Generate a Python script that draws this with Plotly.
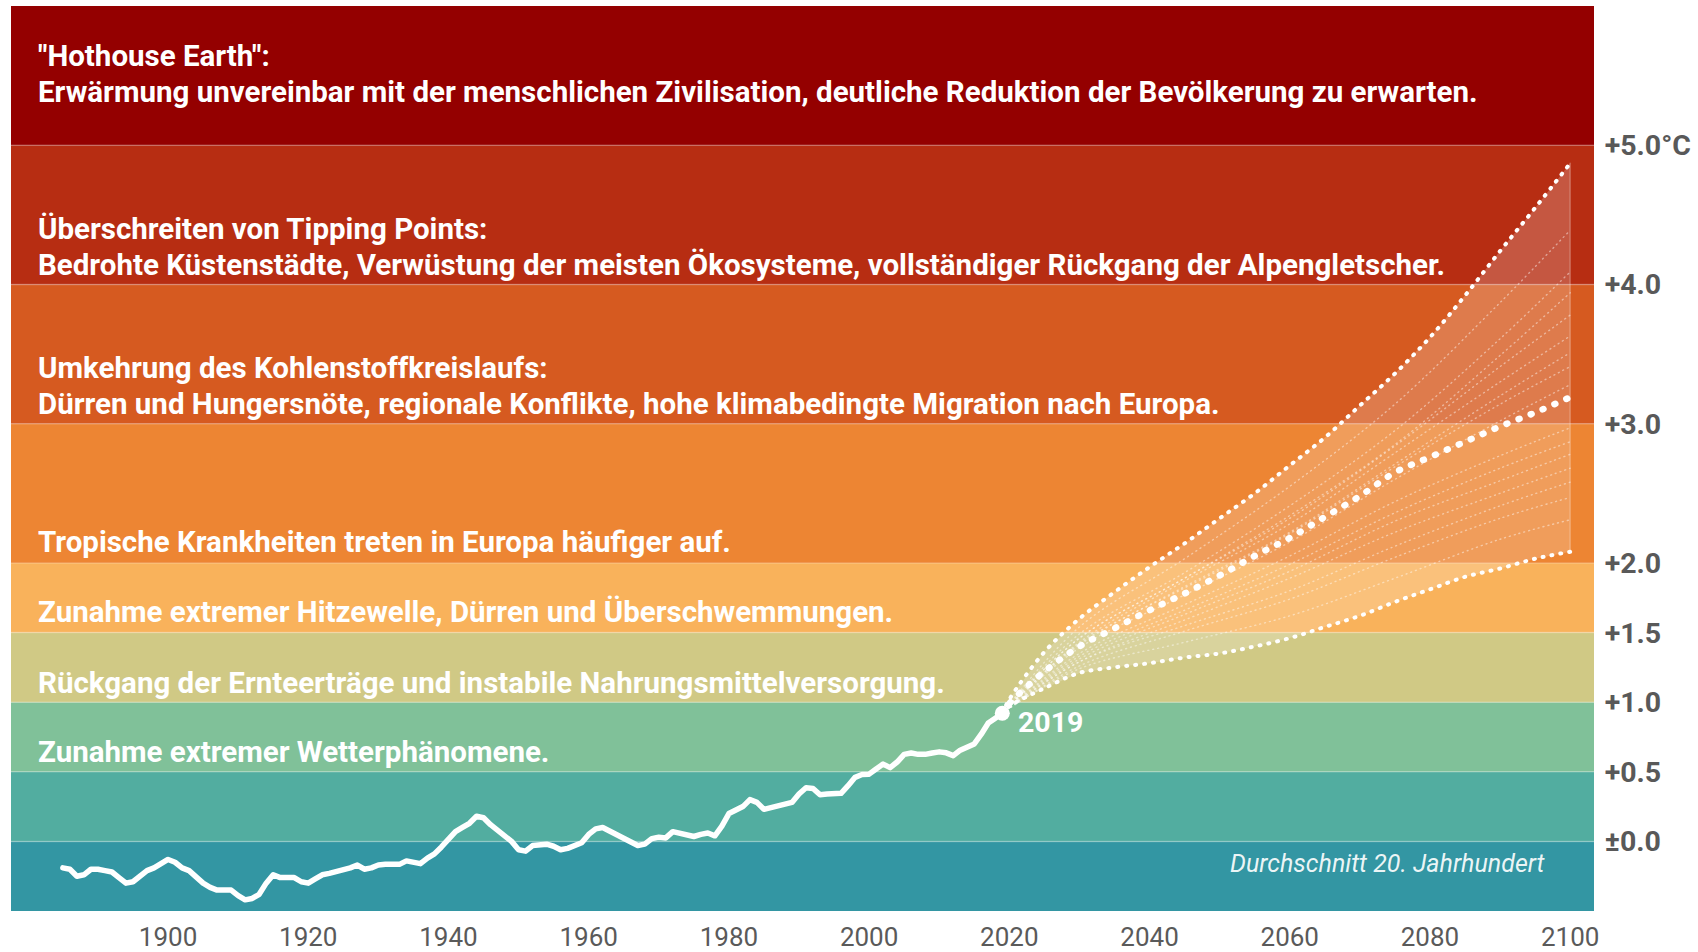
import plotly.graph_objects as go

# ---------------- data ----------------
hist_years = list(range(1885, 2020))
hist_temp = [
    -0.19, -0.20, -0.25, -0.24, -0.20, -0.20, -0.21, -0.22, -0.26, -0.30,   # 1885-1894
    -0.29, -0.25, -0.21, -0.19, -0.16, -0.13, -0.15, -0.19, -0.21, -0.26,   # 1895-1904
    -0.30, -0.33, -0.35, -0.35, -0.35, -0.39, -0.42, -0.41, -0.38, -0.30,   # 1905-1914
    -0.24, -0.26, -0.26, -0.26, -0.29, -0.30, -0.27, -0.24, -0.23, -0.22,   # 1915-1924
    -0.21, -0.19, -0.17, -0.20, -0.19, -0.17, -0.165, -0.17, -0.165, -0.14, # 1925-1934
    -0.15, -0.16, -0.12, -0.09, -0.04, 0.02, 0.07, 0.10, 0.13, 0.18,        # 1935-1944
    0.17, 0.12, 0.08, 0.05, 0.00, -0.06, -0.07, -0.03, -0.02, -0.02,        # 1945-1954
    -0.035, -0.06, -0.05, -0.035, -0.01, 0.05, 0.09, 0.10, 0.075, 0.045,    # 1955-1964
    0.02, 0.00, -0.03, -0.02, 0.02, 0.03, 0.025, 0.07, 0.06, 0.04,          # 1965-1974
    0.035, 0.05, 0.06, 0.04, 0.11, 0.20, 0.23, 0.25, 0.30, 0.28,            # 1975-1984
    0.23, 0.24, 0.26, 0.27, 0.28, 0.34, 0.385, 0.38, 0.335, 0.34,           # 1985-1994
    0.345, 0.345, 0.40, 0.46, 0.48, 0.483, 0.52, 0.555, 0.53, 0.57,         # 1995-2004
    0.625, 0.635, 0.625, 0.625, 0.635, 0.643, 0.636, 0.616, 0.655, 0.68,    # 2005-2014
    0.70, 0.77, 0.85, 0.885, 0.92,                                          # 2015-2019
]

proj_years = [2019, 2020, 2025, 2030, 2035, 2040, 2045, 2050, 2055, 2060,
              2065, 2070, 2075, 2080, 2085, 2090, 2095, 2100]
proj_high = [0.92, 1.02, 1.36, 1.60, 1.79, 1.97, 2.14, 2.32, 2.50, 2.70,
             2.90, 3.13, 3.36, 3.62, 3.92, 4.24, 4.55, 4.87]
proj_mid = [0.92, 0.99, 1.22, 1.40, 1.53, 1.66, 1.78, 1.91, 2.05, 2.18,
            2.33, 2.48, 2.65, 2.76, 2.87, 2.98, 3.08, 3.19]
proj_low = [0.92, 0.97, 1.10, 1.21, 1.25, 1.28, 1.32, 1.35, 1.40, 1.46,
            1.54, 1.62, 1.72, 1.81, 1.90, 1.96, 2.03, 2.08]

model_years = [2019, 2030, 2045, 2060, 2075, 2090, 2100]
model_runs = [
    [0.92, 1.54, 2.03, 2.55, 3.14, 3.87, 4.39],
    [0.92, 1.49, 1.93, 2.41, 2.95, 3.61, 4.09],
    [0.92, 1.46, 1.89, 2.34, 2.85, 3.49, 3.94],
    [0.92, 1.46, 1.89, 2.32, 2.84, 3.41, 3.78],
    [0.92, 1.43, 1.87, 2.28, 2.79, 3.30, 3.63],
    [0.92, 1.41, 1.83, 2.22, 2.71, 3.20, 3.51],
    [0.92, 1.42, 1.82, 2.21, 2.69, 3.14, 3.41],
    [0.92, 1.39, 1.77, 2.15, 2.60, 3.02, 3.28],
    [0.92, 1.35, 1.70, 2.05, 2.44, 2.77, 2.97],
    [0.92, 1.33, 1.66, 1.99, 2.36, 2.68, 2.87],
    [0.92, 1.31, 1.63, 1.94, 2.30, 2.59, 2.78],
    [0.92, 1.29, 1.59, 1.89, 2.22, 2.50, 2.68],
    [0.92, 1.29, 1.55, 1.80, 2.12, 2.41, 2.58],
    [0.92, 1.26, 1.51, 1.74, 2.04, 2.32, 2.47],
    [0.92, 1.24, 1.43, 1.62, 1.89, 2.17, 2.31],
]

band_edges = [-0.5, 0.0, 0.5, 1.0, 1.5, 2.0, 3.0, 4.0, 5.0, 6.0]
band_colors = ["#3396a3", "#52ada0", "#80c199", "#d0c985", "#f9b25b",
               "#ed8533", "#d65a20", "#b72d12", "#940000"]

band_texts = [
    ("\"Hothouse Earth\":", 5.64),
    ("Erwärmung unvereinbar mit der menschlichen Zivilisation, deutliche Reduktion der Bevölkerung zu erwarten.", 5.38),
    ("Überschreiten von Tipping Points:", 4.40),
    ("Bedrohte Küstenstädte, Verwüstung der meisten Ökosysteme, vollständiger Rückgang der Alpengletscher.", 4.14),
    ("Umkehrung des Kohlenstoffkreislaufs:", 3.40),
    ("Dürren und Hungersnöte, regionale Konflikte, hohe klimabedingte Migration nach Europa.", 3.14),
    ("Tropische Krankheiten treten in Europa häufiger auf.", 2.15),
    ("Zunahme extremer Hitzewelle, Dürren und Überschwemmungen.", 1.645),
    ("Rückgang der Ernteerträge und instabile Nahrungsmittelversorgung.", 1.14),
    ("Zunahme extremer Wetterphänomene.", 0.645),
]

x_ticks = [1900, 1920, 1940, 1960, 1980, 2000, 2020, 2040, 2060, 2080, 2100]
y_ticks = [0.0, 0.5, 1.0, 1.5, 2.0, 3.0, 4.0, 5.0]
y_ticktext = ["±0.0", "+0.5", "+1.0", "+1.5", "+2.0", "+3.0", "+4.0", "+5.0°C"]

# ---------------- figure ----------------
fig = go.Figure()

shapes = []
for i, col in enumerate(band_colors):
    shapes.append(dict(type="rect", xref="paper", yref="y", x0=0, x1=1,
                       y0=band_edges[i], y1=band_edges[i + 1],
                       fillcolor=col, line=dict(width=0), layer="below"))
for e in band_edges[1:-1]:
    shapes.append(dict(type="line", xref="paper", yref="y", x0=0, x1=1,
                       y0=e, y1=e, line=dict(color="rgba(255,255,255,0.22)", width=1.5),
                       layer="below"))

# envelope fill
fig.add_trace(go.Scatter(x=proj_years, y=proj_low, mode="lines",
                         line=dict(width=0, color="rgba(0,0,0,0)"),
                         hoverinfo="skip", showlegend=False))
fig.add_trace(go.Scatter(x=proj_years, y=proj_high, mode="lines", fill="tonexty",
                         fillcolor="rgba(255,255,255,0.2)",
                         line=dict(width=0, color="rgba(0,0,0,0)"),
                         hoverinfo="skip", showlegend=False))
# right edge of envelope
fig.add_trace(go.Scatter(x=[proj_years[-1], proj_years[-1]], y=[proj_low[-1], proj_high[-1]],
                         mode="lines", line=dict(width=1.5, color="rgba(255,255,255,0.25)"),
                         hoverinfo="skip", showlegend=False))

for run in model_runs:
    fig.add_trace(go.Scatter(x=model_years, y=run, mode="lines", line_shape="spline",
                             line=dict(width=1.4, color="rgba(255,255,255,0.45)", dash="1px,4px"),
                             hoverinfo="skip", showlegend=False))

for ys, w, d in [(proj_high, 4, "1px,8px"), (proj_low, 4, "1px,8px"), (proj_mid, 6.5, "1px,12px")]:
    fig.add_trace(go.Scatter(x=proj_years, y=ys, mode="lines", line_shape="spline",
                             line=dict(width=w, color="white", dash=d),
                             hoverinfo="skip", showlegend=False))

fig.add_trace(go.Scatter(x=hist_years, y=hist_temp, mode="lines",
                         line=dict(width=5.5, color="white"),
                         hoverinfo="skip", showlegend=False))
fig.add_trace(go.Scatter(x=[hist_years[-1]], y=[hist_temp[-1]], mode="markers",
                         marker=dict(size=15, color="white"),
                         hoverinfo="skip", showlegend=False))

annotations = []
for txt, yv in band_texts:
    annotations.append(dict(text=txt, xref="paper", yref="y", x=0.0155, y=yv,
                            xanchor="left", yanchor="middle", showarrow=False,
                            font=dict(family="Roboto", size=29.5, color="white", weight="bold")))
annotations.append(dict(text="2019", xref="x", yref="y", x=2021.0, y=0.855,
                        xanchor="left", yanchor="middle", showarrow=False,
                        font=dict(family="Roboto", size=28.5, color="white", weight="bold")))
annotations.append(dict(text="<i>Durchschnitt 20. Jahrhundert</i>", xref="x", yref="y",
                        x=2096.8, y=-0.156, xanchor="right", yanchor="middle", showarrow=False,
                        font=dict(family="Roboto", size=25, color="rgba(255,255,255,0.92)")))

fig.update_layout(
    width=1698, height=952,
    margin=dict(l=11, r=104, t=6, b=41),
    paper_bgcolor="white", plot_bgcolor="white",
    shapes=shapes, annotations=annotations,
    showlegend=False,
    xaxis=dict(range=[1877.6, 2103.4], tickvals=x_ticks, showgrid=False, zeroline=False,
               showline=False, ticks="outside", ticklen=3, tickcolor="rgba(0,0,0,0)",
               automargin=False,
               tickfont=dict(family="Roboto", size=26, color="#5a5a5a")),
    yaxis=dict(range=[-0.5, 6.0], side="right", tickvals=y_ticks, ticktext=y_ticktext,
               showgrid=False, zeroline=False, showline=False, ticks="outside", ticklen=4,
               tickcolor="rgba(0,0,0,0)", automargin=False,
               tickfont=dict(family="Roboto", size=28.5, color="#595959", weight="bold")),
)

post = ("document.body.style.margin='0';document.body.style.overflow='hidden';"
        "document.querySelectorAll('.scatterlayer .js-line').forEach(function(p){"
        "p.style.strokeLinecap='round';p.style.strokeLinejoin='round';});")
fig.write_html("out.html", post_script=post, config={"displayModeBar": False})
